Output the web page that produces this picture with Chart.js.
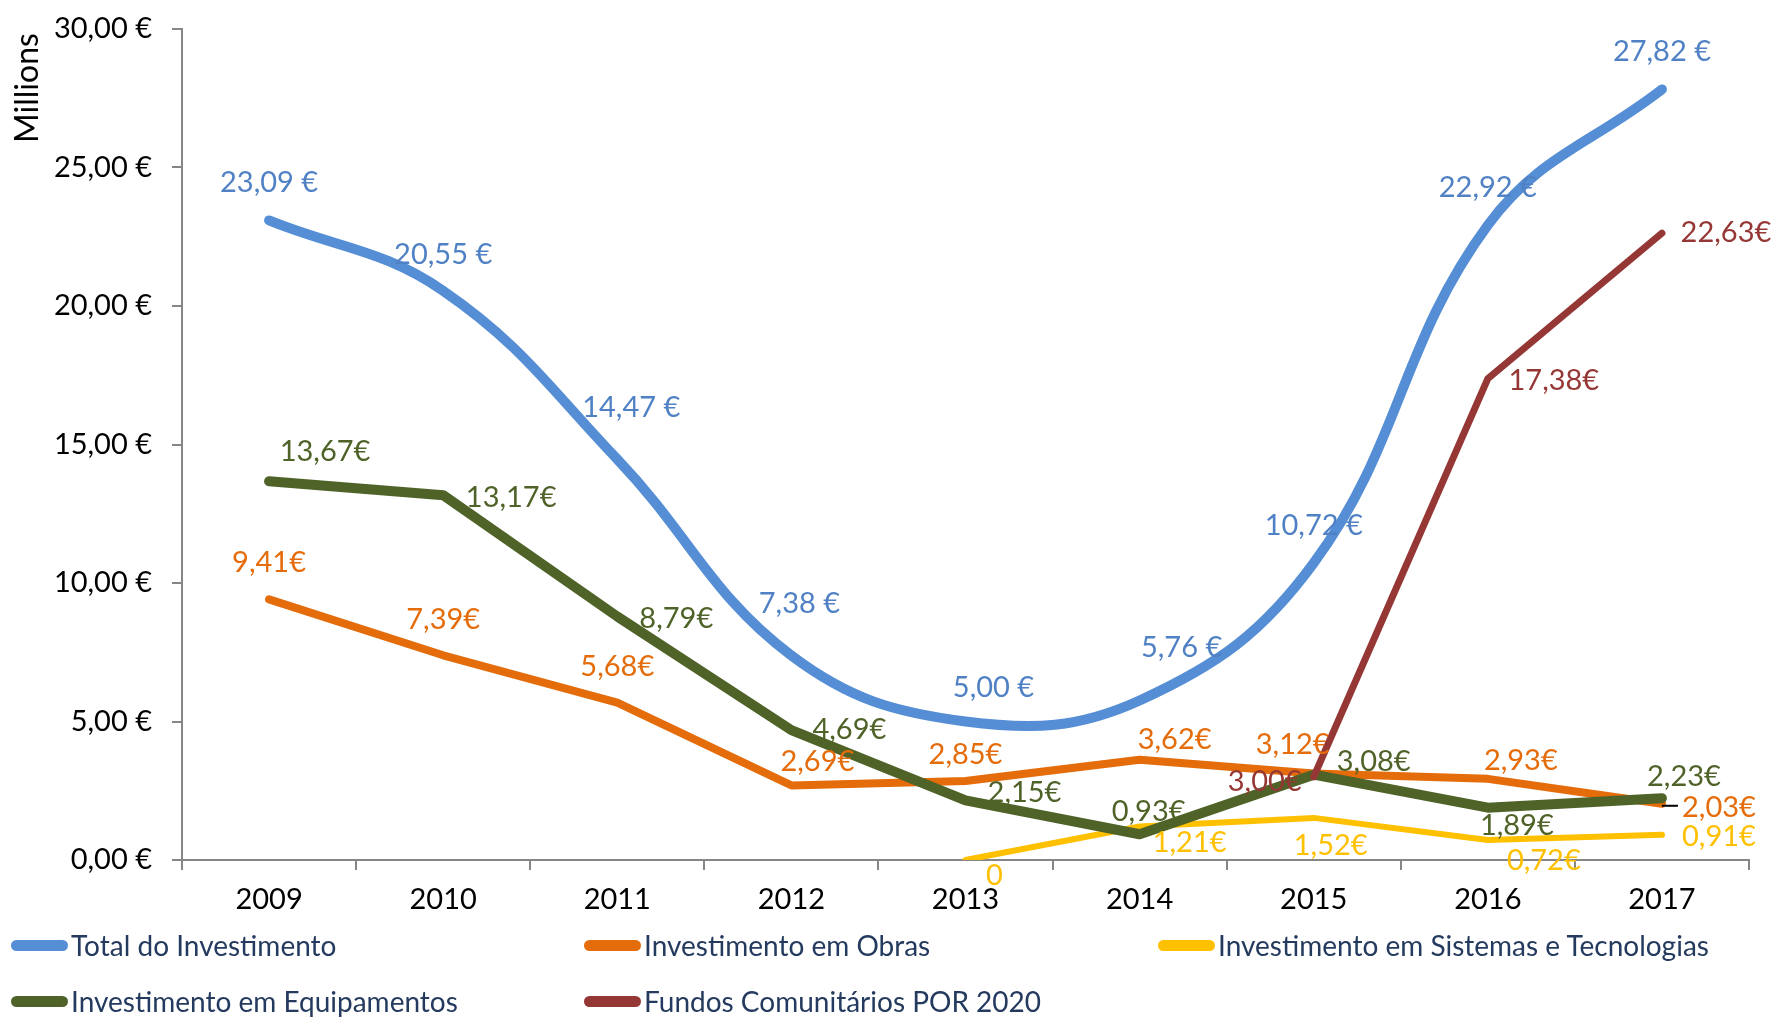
<!DOCTYPE html>
<html>
<head>
<meta charset="utf-8">
<script src="https://cdn.jsdelivr.net/npm/chart.js@4.4.1/dist/chart.umd.min.js"></script>
<style>
  body { margin: 0; background: #fff; }
  #wrap { position: relative; width: 1777px; height: 1017px; }
  #legend { position: absolute; left: 0; top: 0; font-family: Lato, sans-serif; font-size: 28px; color: #243a5e; }
  .item { position: absolute; display: flex; align-items: center; white-space: nowrap; }
  .sw { width: 57px; height: 11px; border-radius: 6px; margin-right: 3px; }
</style>
</head>
<body>
<div id="wrap">
  <canvas id="chart" width="1777" height="1017"></canvas>
  <div id="legend"></div>
</div>
<script>
const years = ['2009', '2010', '2011', '2012', '2013', '2014', '2015', '2016', '2017'];
const totalInvest = [23.09, 20.55, 14.47, 7.38, 5.00, 5.76, 10.72, 22.92, 27.82];
const obras = [9.41, 7.39, 5.68, 2.69, 2.85, 3.62, 3.12, 2.93, 2.03];
const sistemas = [null, null, null, null, 0, 1.21, 1.52, 0.72, 0.91];
const equipamentos = [13.67, 13.17, 8.79, 4.69, 2.15, 0.93, 3.08, 1.89, 2.23];
const fundos = [null, null, null, null, null, null, 3.00, 17.38, 22.63];
const yTicks = [0, 5, 10, 15, 20, 25, 30];

// offsets of the value labels from their points (hand placed in the original)
const labelOffsets = {
    total: [[0, -38], [0, -36], [14, -52], [8, -52], [28, -34], [42, -53], [0, -37], [0, -37], [0, -38]],
    obras: [[0, -37], [0, -36], [0, -36], [26, -24], [0, -26], [35, -20], [-21, -29], [33, -18], [57, 4]],
    sistemas: [null, null, null, null, [29, 16], [50, 16], [17, 28], [56, 21], [57, 2]],
    equip: [[56, -30], [68, 2], [59, 2], [58, 0], [59, -8], [9, -23], [60, -13], [29, 18], [22, -22]],
    fundos: [null, null, null, null, null, null, [-49, 5], [66, 2], [64, -1]]
};

function euro(v, space) {
    if (v === 0) return '0';
    return v.toFixed(2).replace('.', ',') + (space ? ' €' : '€');
}

const series = [
    { key: 'total', label: 'Total do Investimento', data: totalInvest, color: '#558ed5', text: '#4f81c4', width: 10, tension: 0.4, order: 2, space: true },
    { key: 'obras', label: 'Investimento em Obras', data: obras, color: '#e46c0a', text: '#e46c0a', width: 8, tension: 0, order: 3 },
    { key: 'sistemas', label: 'Investimento em Sistemas e Tecnologias', data: sistemas, color: '#ffc000', text: '#ffc000', width: 6, tension: 0, order: 4 },
    { key: 'equip', label: 'Investimento em Equipamentos', data: equipamentos, color: '#4f6228', text: '#4f6228', width: 10, tension: 0, order: 1 },
    { key: 'fundos', label: 'Fundos Comunitários POR 2020', data: fundos, color: '#953735', text: '#953735', width: 7, tension: 0, order: 0 }
];

const valueLabels = {
    id: 'valueLabels',
    afterDatasetsDraw(chart) {
        const ctx = chart.ctx;
        ctx.save();
        ctx.font = '29px Lato, sans-serif';
        ctx.textAlign = 'center';
        ctx.textBaseline = 'middle';
        series.forEach((s, di) => {
            const meta = chart.getDatasetMeta(di);
            s.data.forEach((v, i) => {
                if (v === null) return;
                const p = meta.data[i];
                const off = labelOffsets[s.key][i];
                if (s.key === 'obras' && i === 8) {
                    ctx.strokeStyle = '#000';
                    ctx.lineWidth = 2;
                    ctx.beginPath();
                    ctx.moveTo(p.x, p.y + 2);
                    ctx.lineTo(p.x + 16, p.y + 2);
                    ctx.stroke();
                }
                ctx.fillStyle = s.text;
                ctx.fillText(euro(v, s.space), p.x + off[0], p.y + off[1]);
            });
        });
        // axis title sits at the top of the value axis
        ctx.translate(28, 88);
        ctx.rotate(-Math.PI / 2);
        ctx.fillStyle = '#000';
        ctx.font = '32px Lato, sans-serif';
        ctx.fillText('Millions', 0, 0);
        ctx.restore();
    }
};

const ctx = document.getElementById('chart').getContext('2d');
new Chart(ctx, {
    type: 'line',
    data: {
        labels: years,
        datasets: series.map(s => ({
            label: s.label,
            data: s.data,
            borderColor: s.color,
            backgroundColor: s.color,
            borderWidth: s.width,
            borderCapStyle: 'round',
            borderJoinStyle: 'round',
            tension: s.tension,
            pointRadius: 0,
            order: s.order
        }))
    },
    options: {
        responsive: false,
        devicePixelRatio: 1,
        animation: false,
        layout: { padding: { top: 29, right: 28, bottom: 97, left: 0 } },
        plugins: { legend: { display: false }, tooltip: { enabled: false } },
        scales: {
            x: {
                offset: true,
                grid: { display: true, offset: true, drawOnChartArea: false, drawTicks: true, tickLength: 10, color: '#868686', lineWidth: 2 },
                border: { display: true, color: '#868686', width: 2 },
                ticks: { color: '#000', font: { family: 'Lato', size: 29 }, padding: 12, maxRotation: 0 },
                afterFit(scale) {
                    scale.height = 60;
                    scale.paddingLeft = 0;
                    scale.paddingRight = 0;
                }
            },
            y: {
                min: 0,
                max: 30,
                afterBuildTicks(scale) { scale.ticks = yTicks.map(v => ({ value: v })); },
                grid: { display: true, drawOnChartArea: false, drawTicks: true, tickLength: 10, color: '#868686', lineWidth: 2 },
                border: { display: true, color: '#868686', width: 2 },
                ticks: {
                    color: '#000',
                    font: { family: 'Lato', size: 29 },
                    padding: 20,
                    callback: v => euro(v, true).replace(/^0$/, '0,00 €')
                },
                afterFit(scale) {
                    scale.width = 182;
                    scale.paddingTop = 0;
                    scale.paddingBottom = 0;
                }
            }
        }
    },
    plugins: [valueLabels]
});

// legend laid out in the same three columns as the original
const legendPos = [[11, 945], [584, 945], [1158, 945], [11, 1001], [584, 1001]];
const legend = document.getElementById('legend');
series.forEach((s, i) => {
    const item = document.createElement('div');
    item.className = 'item';
    item.style.left = legendPos[i][0] + 'px';
    item.style.top = (legendPos[i][1] - 16) + 'px';
    item.style.height = '32px';
    item.innerHTML = '<span class="sw" style="background:' + s.color + '"></span><span>' + s.label + '</span>';
    legend.appendChild(item);
});
</script>
</body>
</html>
